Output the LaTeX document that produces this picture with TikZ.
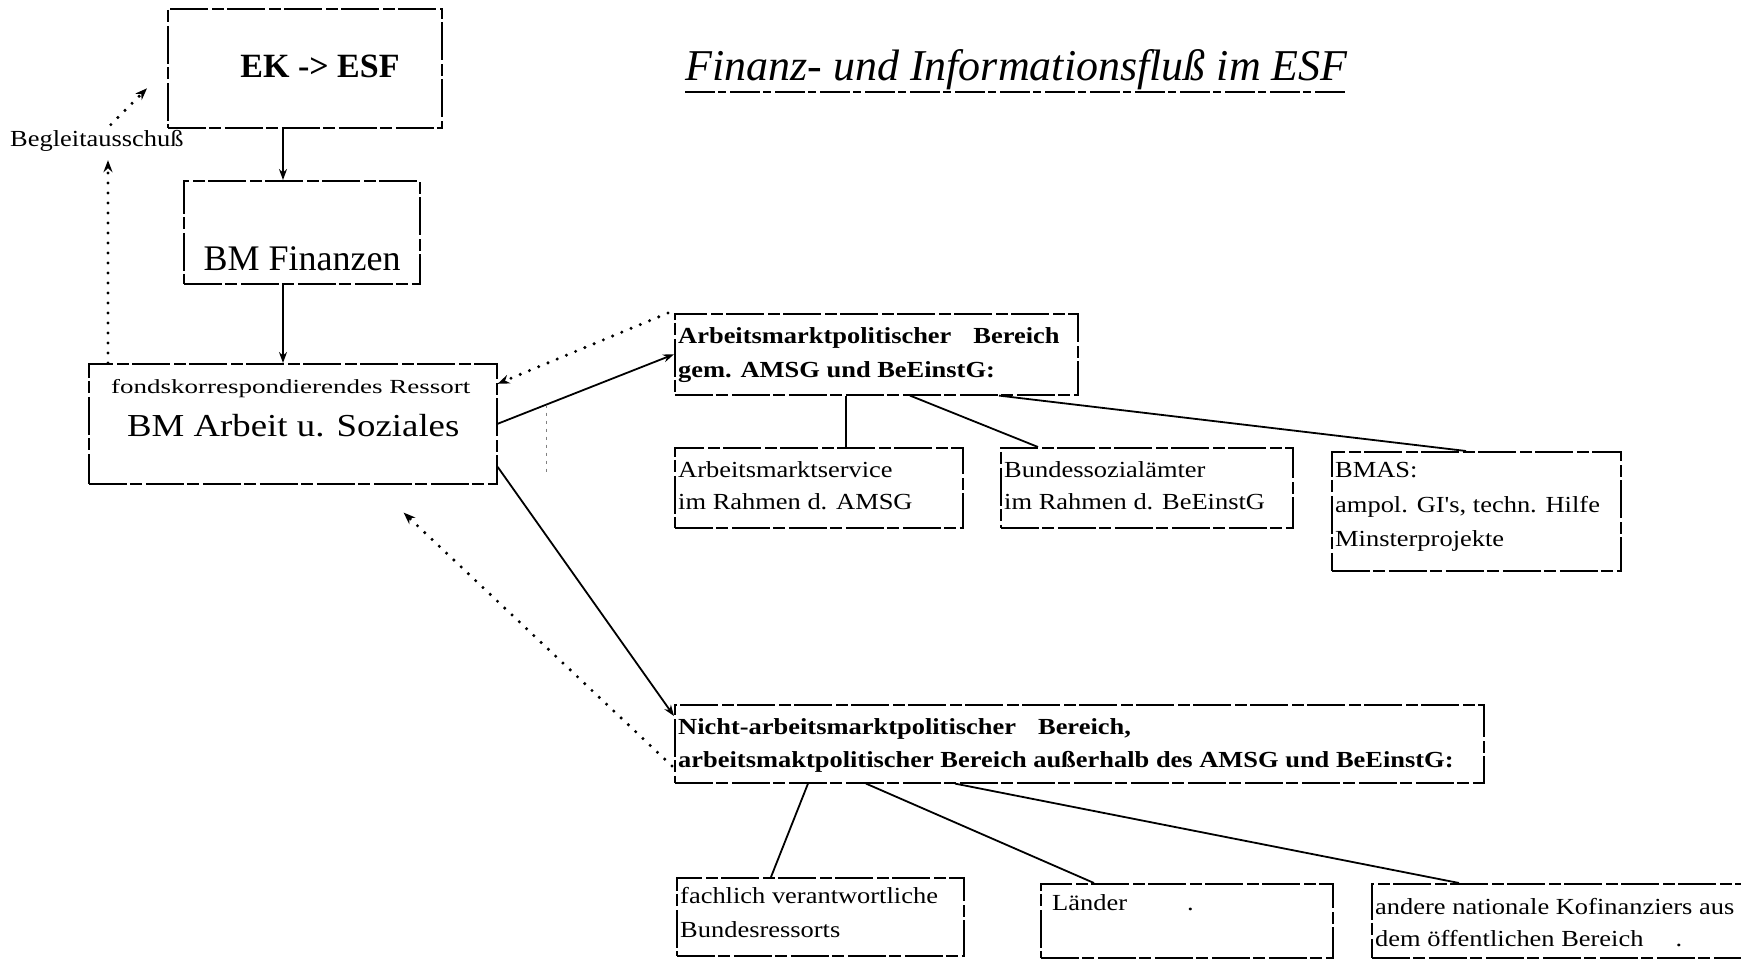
\documentclass[tikz,border=0pt]{standalone}
\usepackage{fontspec}
\setmainfont{Liberation Serif}
\newfontfamily\fA{Liberation Serif}[FakeStretch=1.15]
\newfontfamily\fB{Liberation Serif}[FakeStretch=1.35]
\usetikzlibrary{arrows.meta,calc}
\newcommand\boxfont{\fA\fontsize{23}{28}\selectfont}
\tikzset{
  box/.style={draw, line width=1.6pt, dash pattern=on 38pt off 3pt on 12pt off 4pt, anchor=north west, inner sep=0pt},
  txt/.style={anchor=base west, inner sep=0pt},
  conn/.style={line width=1.8pt},
  arr/.style={conn, -{Stealth[length=11pt,width=8pt]}},
  dotc/.style={line width=3.4pt, line cap=round, dash pattern=on 0pt off 10pt},
  dotarr/.style={dotc, -{Stealth[length=12pt,width=9pt]}},
  uline/.style={line width=1.4pt, dash pattern=on 30pt off 3pt on 8pt off 4pt},
  faint/.style={line width=1pt, gray, dash pattern=on 3pt off 5pt}
}
\begin{document}
\begin{tikzpicture}[x=1pt,y=-1pt]
\clip (0,0) rectangle (1741,965);
\fill[white] (0,0) rectangle (1741,965);
% title
\node[txt] (title) at (685,81) {\fontsize{44}{50}\selectfont\itshape Finanz- und Informationsfluß im ESF};
\draw[uline] ([yshift=-11pt]title.base west) -- ([yshift=-11pt]title.base east);
% left column boxes
\node[box, minimum width=274pt, minimum height=119pt] (ek) at (167,8) {};
\node[anchor=base, inner sep=0pt] (ekt) at (320,78) {\fontsize{34}{40}\selectfont\bfseries EK -> ESF};
\node[box, minimum width=236pt, minimum height=103pt] (bmf) at (183,180) {};
\node[anchor=base, inner sep=0pt] (bmft) at (302,271) {\fontsize{36}{40}\selectfont BM Finanzen};
\node[box, minimum width=408pt, minimum height=120pt] (fonds) at (88,363) {};
\node[txt] (fondst1) at (111,394) {\fB\fontsize{20}{24}\selectfont fondskorrespondierendes Ressort};
\node[txt] (fondst2) at (127,437) {\fA\fontsize{32}{36}\selectfont BM Arbeit u. Soziales};
\node[txt] (begl) at (10,147) {\fA\fontsize{23}{26}\selectfont Begleitausschuß};
% left connectors
\draw[arr] ([xshift=116pt]ek.south west) -- ([xshift=100pt]bmf.north west);
\draw[arr] ([xshift=100pt]bmf.south west) -- ([xshift=195pt]fonds.north west);
\coordinate (bfoot) at ([xshift=20pt]fonds.north west);
\draw[dotarr, shorten >=8pt] (bfoot) -- (bfoot |- begl.south);
\draw[dotarr] ([xshift=14pt,yshift=6pt]begl.north) -- ([xshift=-20pt,yshift=-20pt]ek.west);
% right upper group
\node[box, minimum width=403pt, minimum height=81pt] (amb) at (674,313) {};
\node[txt] (ambt1) at (678,344) {\boxfont\bfseries Arbeitsmarktpolitischer\hspace{22pt}Bereich};
\node[txt] (ambt2) at (678,378) {\boxfont\bfseries gem. AMSG und BeEinstG:};
\node[box, minimum width=288pt, minimum height=80pt] (ams) at (674,447) {};
\node[txt] (amst1) at (678,478) {\boxfont Arbeitsmarktservice};
\node[txt] (amst2) at (678,509) {\boxfont im Rahmen d. AMSG};
\node[box, minimum width=292pt, minimum height=80pt] (bsa) at (1000,447) {};
\node[txt] (bsat1) at (1004,478) {\boxfont Bundessozialämter};
\node[txt] (bsat2) at (1004,509) {\boxfont im Rahmen d. BeEinstG};
\node[box, minimum width=289pt, minimum height=119pt] (bmas) at (1331,451) {};
\node[txt] (bmast1) at (1335,478) {\boxfont BMAS:};
\node[txt] (bmast2) at (1335,512) {\boxfont ampol. GI's, techn. Hilfe};
\node[txt] (bmast3) at (1335,546) {\boxfont Minsterprojekte};
\draw[conn] ([xshift=172pt]amb.south west) -- ([xshift=172pt]amb.south west |- ams.north);
\draw[conn] ([xshift=236pt]amb.south west) -- ([xshift=38pt]bsa.north west);
\draw[conn] ([xshift=325pt]amb.south west) -- ([xshift=135pt]bmas.north west);
% right lower group
\node[box, minimum width=809pt, minimum height=78pt] (nab) at (674,704) {};
\node[txt] (nabt1) at (678,734) {\boxfont\bfseries Nicht-arbeitsmarktpolitischer\hspace{22pt}Bereich,};
\node[txt] (nabt2) at (678,767) {\boxfont\bfseries arbeitsmaktpolitischer Bereich außerhalb des AMSG und BeEinstG:};
\node[box, minimum width=287pt, minimum height=78pt] (fach) at (676,877) {};
\node[txt] (facht1) at (680,903) {\boxfont fachlich verantwortliche};
\node[txt] (facht2) at (680,937) {\boxfont Bundesressorts};
\node[box, minimum width=292pt, minimum height=74pt] (laender) at (1040,883) {};
\node[txt] (laendert) at (1052,910) {\boxfont Länder\hspace{60pt}.};
\node[box, minimum width=420pt, minimum height=74pt] (andere) at (1371,883) {};
\node[txt] (anderet1) at (1375,914) {\boxfont andere nationale Kofinanziers aus};
\node[txt] (anderet2) at (1375,946) {\boxfont dem öffentlichen Bereich\hspace{32pt}.};
\draw[conn] ([xshift=134pt]nab.south west) -- ([xshift=95pt]fach.north west);
\draw[conn] ([xshift=192pt]nab.south west) -- ([xshift=54pt]laender.north west);
\draw[conn] ([xshift=281pt]nab.south west) -- ([xshift=88pt]andere.north west);
% connectors between fonds and right groups
\draw[arr] (fonds.east) -- (amb.west);
\draw[dotarr] ([xshift=-6pt]amb.north west) -- ([yshift=40pt]fonds.east);
\draw[arr] ([yshift=-43pt]fonds.east) -- ([yshift=-12pt]nab.north west);
\draw[dotarr] ([xshift=-2pt,yshift=-62pt]nab.north west) -- ([xshift=-94pt,yshift=-28pt]fonds.south east);
\coordinate (fk) at ($(fonds.east)!0.275!(amb.west)$);
\draw[faint] (fk) -- ([yshift=-68pt]fk);
\end{tikzpicture}
\end{document}
